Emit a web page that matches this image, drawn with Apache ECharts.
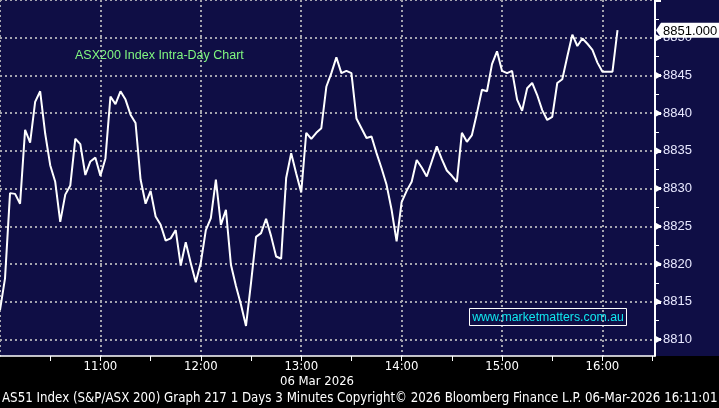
<!DOCTYPE html>
<html>
<head>
<meta charset="utf-8">
<script src="https://cdn.jsdelivr.net/npm/echarts@6/dist/echarts.min.js"></script>
<style>
  html, body { margin: 0; padding: 0; background: #000; }
  #chart { width: 719px; height: 408px; }
</style>
</head>
<body>
<div id="chart"></div>
<script>
// AS51 intraday, 3 minute closes starting 10:00
const startMinute = 600
const stepMinutes = 3
const closes = [
  8813.9, 8818.1, 8829.4, 8829.3, 8828.0, 8837.8, 8836.1, 8841.5, 8842.9, 8837.3,
  8833.1, 8830.9, 8825.6, 8829.2, 8830.4, 8836.6, 8835.9, 8831.8, 8833.6, 8834.1,
  8831.7, 8834.0, 8842.2, 8841.2, 8842.9, 8841.8, 8839.8, 8838.7, 8831.2, 8828.0,
  8829.7, 8826.3, 8825.2, 8823.1, 8823.4, 8824.5, 8819.8, 8822.9, 8820.1, 8817.6,
  8820.2, 8824.5, 8826.1, 8831.2, 8825.2, 8827.2, 8819.9, 8817.1, 8814.6, 8811.8,
  8817.5, 8823.6, 8824.1, 8826.0, 8823.7, 8821.0, 8820.7, 8831.4, 8834.7, 8832.0,
  8829.5, 8837.4, 8836.6, 8837.4, 8838.0, 8843.5, 8845.3, 8847.4, 8845.3, 8845.6,
  8845.3, 8839.3, 8838.0, 8836.7, 8836.9, 8834.7, 8832.7, 8830.5, 8827.2, 8823.0,
  8828.2, 8829.7, 8830.9, 8833.8, 8832.8, 8831.6, 8833.6, 8835.6, 8833.9, 8832.4,
  8831.7, 8830.9, 8837.4, 8836.2, 8837.1, 8840.0, 8843.1, 8842.9, 8846.5, 8848.2,
  8845.6, 8845.3, 8845.6, 8841.8, 8840.3, 8843.3, 8844.0, 8842.4, 8840.4, 8839.1,
  8839.5, 8844.0, 8844.5, 8847.5, 8850.4, 8848.9, 8849.9, 8849.2, 8848.4, 8846.7,
  8845.5, 8845.5, 8845.5, 8851.0
]
const lastPrice = closes[closes.length - 1]

const titleText = 'ASX200 Index Intra-Day Chart'
const dateText = '06 Mar 2026'
const footerText = 'AS51 Index (S&P/ASX 200) Graph 217 1 Days 3 Minutes Copyright\u00a9 2026 Bloomberg Finance L.P. 06-Mar-2026 16:11:01'
const siteText = 'www.marketmatters.com.au'

const navy = '#0f0e45'
const gridColor = '#a4a4ae'
const sans = '"Liberation Sans", Arial, sans-serif'
const narrow = '"DejaVu Sans Condensed", "Liberation Sans Narrow", "DejaVu Sans", sans-serif'

// small arrow heads used by the axis labels (Bloomberg style)
const svgUrl = (w, h, d) => 'data:image/svg+xml;charset=utf-8,' + encodeURIComponent(
  '<svg xmlns="http://www.w3.org/2000/svg" width="' + w + '" height="' + h + '"><path d="' + d + '" fill="#ffffff"/></svg>')
const arrowRight = svgUrl(7, 8, 'M0 0L7 4L0 8Z')
const arrowLeft = svgUrl(5, 15, 'M5 0L0 7.5L5 15Z')

const seriesData = closes.map((v, i) => [startMinute + i * stepMinutes, v])

const hhmm = (m) => {
  const h = Math.floor(m / 60)
  const mm = m % 60
  return h + ':' + (mm < 10 ? '0' : '') + mm
}

const chart = echarts.init(document.getElementById('chart'))

const option = {
  animation: false,
  backgroundColor: '#000',
  title: {
    text: titleText,
    left: 75,
    top: 49,
    padding: 0,
    textStyle: { color: '#80f880', fontSize: 12.5, fontWeight: 'normal', fontFamily: sans }
  },
  grid: { left: 0, right: 64, top: 0, bottom: 30.8 },
  xAxis: [{
    // grid lines only
    type: 'value',
    min: 600,
    max: 991.4,
    interval: 60,
    axisLine: { show: false },
    axisTick: { show: false },
    axisLabel: { show: false },
    splitLine: { show: true, lineStyle: { color: gridColor, type: [2, 3], width: 2 } }
  }, {
    // visible time axis, pulled up to the bottom of the navy panel
    type: 'value',
    min: 600,
    max: 991.4,
    interval: 30,
    position: 'bottom',
    offset: -21.2,
    z: 10,
    axisLine: { show: true, onZero: false, lineStyle: { color: '#fff', width: 1.5 } },
    axisTick: { show: true, length: 5, lineStyle: { color: '#fff', width: 1 } },
    axisLabel: {
      showMinLabel: false,
      showMaxLabel: false,
      margin: 4,
      color: '#fff',
      fontSize: 13,
      fontFamily: narrow,
      formatter: (v) => (v % 60 === 0 ? hhmm(v) : '')
    },
    splitLine: { show: false }
  }],
  yAxis: {
    type: 'value',
    position: 'right',
    min: 8805,
    max: 8855,
    interval: 5,
    axisLine: { show: true, lineStyle: { color: '#fff', width: 2 } },
    axisTick: { show: true, length: 6, lineStyle: { color: '#fff', width: 3 } },
    minorTick: { show: true, splitNumber: 2, length: 4, lineStyle: { color: '#fff', width: 1 } },
    splitLine: { lineStyle: { color: gridColor, type: [2, 3], width: 2 } },
    axisLabel: {
      margin: 0,
      showMinLabel: false,
      showMaxLabel: false,
      formatter: (v) => '{t| }{v|' + v + '}',
      rich: {
        t: { width: 7, height: 8, backgroundColor: { image: arrowRight } },
        v: { color: '#e8e8ff', fontSize: 13, fontFamily: sans, padding: [0, 0, 0, 1] }
      }
    }
  },
  series: [{
    type: 'line',
    data: seriesData,
    showSymbol: false,
    lineStyle: { color: '#fff', width: 2 },
    markLine: {
      silent: true,
      symbol: 'none',
      lineStyle: { color: 'rgba(0,0,0,0)', width: 0 },
      data: [{ yAxis: lastPrice }],
      label: {
        show: true,
        position: 'end',
        distance: 1,
        formatter: (p) => '{a| }{b|' + Number(p.value).toFixed(3) + '}',
        rich: {
          a: { width: 5, height: 15, backgroundColor: { image: arrowLeft } },
          b: { color: '#000', backgroundColor: '#fff', padding: [2, 3, 0, 2], height: 13, fontSize: 13, fontFamily: sans }
        }
      }
    }
  }],
  graphic: [
    { type: 'rect', z: -10, shape: { x: 0, y: 0, width: 719, height: 356 }, style: { fill: navy } },
    { type: 'rect', z: 5, shape: { x: 0, y: 356.5, width: 719, height: 52 }, style: { fill: '#000' } },
    { type: 'rect', z: 6, shape: { x: 469.5, y: 308.5, width: 157, height: 17 }, style: { fill: 'none', stroke: '#fff', lineWidth: 1 } },
    {
      type: 'text', z: 6, x: 548, y: 317.5,
      style: { text: siteText, fill: '#10e8f0', font: '12.3px ' + sans, align: 'center', verticalAlign: 'middle', textAlign: 'center', textVerticalAlign: 'middle' }
    },
    {
      type: 'text', z: 11, x: 317, y: 382,
      style: { text: dateText, fill: '#fff', font: '13px ' + narrow, align: 'center', verticalAlign: 'middle', textAlign: 'center', textVerticalAlign: 'middle' }
    },
    {
      type: 'text', z: 11, x: 2, y: 399,
      style: { text: footerText, fill: '#fff', font: '13.2px ' + narrow, align: 'left', verticalAlign: 'middle', textAlign: 'left', textVerticalAlign: 'middle' }
    }
  ]
}

chart.setOption(option)
window.addEventListener('resize', () => chart.resize())
</script>
</body>
</html>
